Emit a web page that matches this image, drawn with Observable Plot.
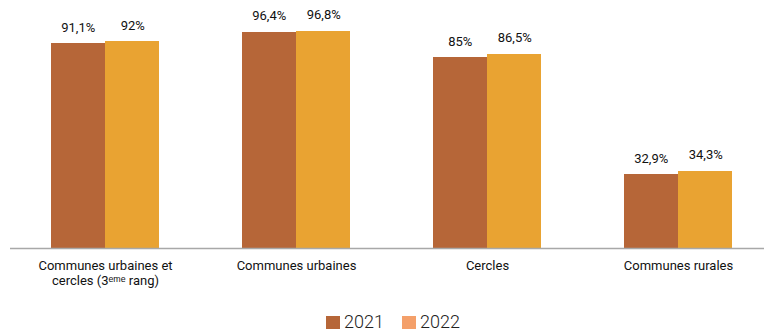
<!DOCTYPE html>
<html>
<head>
<meta charset="utf-8">
<script src="https://cdn.jsdelivr.net/npm/d3@7"></script>
<script src="https://cdn.jsdelivr.net/npm/@observablehq/plot@0.6"></script>
<style>
  html, body { margin: 0; padding: 0; background: #fff; }
  #chart { width: 764px; font-family: Roboto, "Open Sans", sans-serif; }
  #legend { display: flex; justify-content: center; align-items: center; gap: 18px;
            margin-top: 12px; padding-left: 22px; font-size: 18px; font-weight: 300; color: #222; line-height: 20px; }
  #legend .item { display: flex; align-items: center; gap: 4px; }
  #legend .sw { width: 14px; height: 13px; display: inline-block; }
</style>
</head>
<body>
<div id="chart"></div>
<script>
// ---- data ----
const categories = [
  "Communes urbaines et\ncercles (3ᵉᵐᵉ rang)",
  "Communes urbaines",
  "Cercles",
  "Communes rurales"
];
const years = ["2021", "2022"];
const values2021 = [91.1, 96.4, 85, 32.9];
const values2022 = [92, 96.8, 86.5, 34.3];
const barColors = ["#B66638", "#E9A332"];
const legendColors = ["#B66638", "#F4A06A"];

// ---- build table ----
const rows = [];
categories.forEach((c, i) => {
  rows.push({category: c, year: years[0], value: values2021[i]});
  rows.push({category: c, year: years[1], value: values2022[i]});
});
const fmt = v => String(v).replace(".", ",") + "%";

const W = 764, H = 300;
const xOpts = {type: "band", domain: categories, paddingInner: 0.4323, paddingOuter: 0.1797, align: 0.57};
const xs = Plot.scale({x: {...xOpts, range: [10, W]}});
const bw = xs.bandwidth;

const d21 = rows.filter(d => d.year === years[0]);
const d22 = rows.filter(d => d.year === years[1]);

const chart = Plot.plot({
  width: W,
  height: H,
  marginLeft: 10,
  marginRight: 0,
  marginTop: 23.5,
  marginBottom: H - 248,
  style: {fontFamily: "Roboto, 'Open Sans', sans-serif", fontSize: "13px", color: "#111", background: "white"},
  x: {...xOpts, label: null},
  y: {domain: [0, 100], axis: null},
  marks: [
    Plot.barY(d21, {x: "category", y: "value", fill: barColors[0], insetRight: bw / 2, shapeRendering: "crispEdges"}),
    Plot.barY(d22, {x: "category", y: "value", fill: barColors[1], insetLeft: bw / 2, shapeRendering: "crispEdges"}),
    Plot.text(d21, {x: "category", y: "value", text: d => fmt(d.value), dx: -bw / 4, dy: -12, lineAnchor: "bottom", fill: "#111", fontSize: 13}),
    Plot.text(d22, {x: "category", y: "value", text: d => fmt(d.value), dx: bw / 4, dy: -12, lineAnchor: "bottom", fill: "#111", fontSize: 13}),
    Plot.ruleY([0], {stroke: "#A8A8A8", strokeWidth: 1.5}),
    Plot.axisX({tickSize: 0, tickPadding: 11, fontSize: 13, lineHeight: 1.15, label: null, fill: "#111"})
  ]
});
document.getElementById("chart").appendChild(chart);

// ---- legend ----
const legend = document.createElement("div");
legend.id = "legend";
years.forEach((y, i) => {
  const item = document.createElement("div");
  item.className = "item";
  const sw = document.createElement("span");
  sw.className = "sw";
  sw.style.background = legendColors[i];
  const t = document.createElement("span");
  t.textContent = y;
  item.appendChild(sw);
  item.appendChild(t);
  legend.appendChild(item);
});
document.getElementById("chart").appendChild(legend);
</script>
</body>
</html>
